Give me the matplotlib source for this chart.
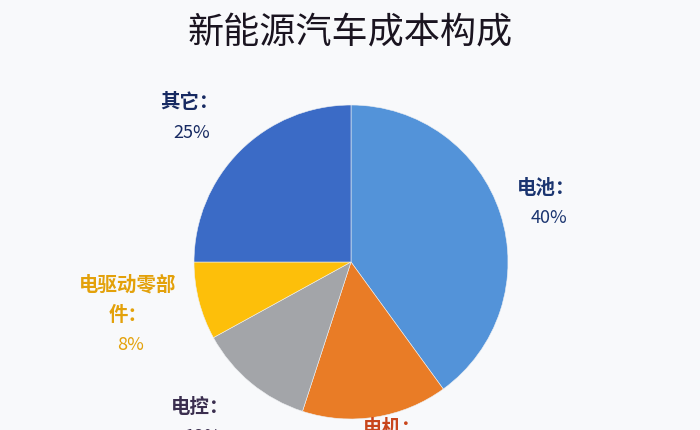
import matplotlib
matplotlib.use("Agg")
import matplotlib.pyplot as plt

plt.rcParams['font.family'] = ['Noto Sans CJK SC', 'DejaVu Sans']

title = '新能源汽车成本构成'
parts = ['电池', '电机', '电控', '电驱动零部件', '其它']
shares = [40, 15, 12, 8, 25]
colors = ['#5393d9', '#e97c26', '#a3a5a9', '#fdbf0a', '#3b6bc6']
label_colors = ['#1b3570', '#c8461c', '#3b2f4f', '#e3a10a', '#172a62']
# label anchor (x, y) of the first line in pixels from top-left
label_pos = [(546, 188), (392, 429), (200, 407), (128, 285), (189, 103)]
label_lines = [['电池：'], ['电机：'], ['电控：'], ['电驱动零部', '件：'], ['其它：']]

W, H = 700, 431
fig = plt.figure(figsize=(7, 4.31), dpi=100)
fig.patch.set_facecolor('#f8f9fb')
ax = fig.add_axes([0, 0, 1, 1])

ax.pie(shares, colors=colors, startangle=90, counterclock=False,
       center=(351, H - 263), radius=157,
       wedgeprops=dict(edgecolor='#eef0f2', linewidth=0.4))

ax.set_xlim(0, W)
ax.set_ylim(0, H)
ax.set_aspect('equal')
ax.axis('off')

ax.text(W / 2, H - 32, title, ha='center', va='center', fontsize=26,
        color='#1a1420')

for v, (x, y), c, lines in zip(shares, label_pos, label_colors, label_lines):
    for i, line in enumerate(lines):
        ax.text(x, H - (y + 30 * i), line, ha='center', va='center',
                fontsize=14, fontweight='bold', color=c)
    py = y + 30 * len(lines)
    ax.text(x + 3, H - py, f'{v}%', ha='center', va='center', fontsize=13,
            color=c)

fig.savefig('out.png', dpi=100, facecolor=fig.get_facecolor())
